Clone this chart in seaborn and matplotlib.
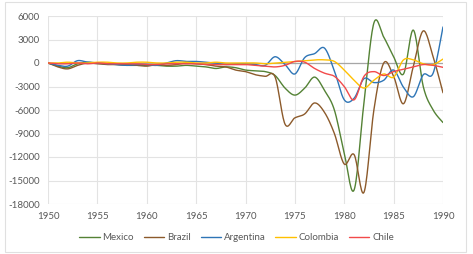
import numpy as np
import pandas as pd
import matplotlib
matplotlib.use('Agg')
import matplotlib.pyplot as plt
import seaborn as sns
from matplotlib.patches import Rectangle

years = list(range(1950, 1991))

mexico = [0, -400, -600, -100, 100, 0, -100, -200, -200, -300,
          -300, -300, -400, -400, -300, -400, -500, -700, -500, -600,
          -900, -1000, -1100, -1600, -3200, -4100, -3200, -1800, -3500, -6000,
          -11500, -16200, -5000, 5100, 3300, 800, -1400, 4200, -3000, -6000,
          -7600]
brazil = [0, -500, -750, -300, 0, -100, -200, -200, -300, -300,
          -400, -200, -300, -200, 0, -100, -200, -400, -500, -900,
          -1100, -1500, -1700, -1800, -7800, -7000, -6500, -5100, -6300, -9000,
          -12900, -11700, -16500, -6000, 0, -1700, -5200, -400, 4100, 800,
          -3800]
argentina = [0, -300, -400, 300, 100, 0, -100, -200, -300, -200,
             -200, -300, 0, 300, 200, 200, 100, 0, -200, -100,
             -100, -200, -300, 800, -200, -1400, 700, 1200, 1900, -1000,
             -4700, -4500, -2000, -2500, -2200, -900, -3100, -4300, -1500, -1300,
             4600]
colombia = [0, 0, 100, 0, 0, 100, 100, 0, 0, 100,
            100, 0, 0, 100, 100, 0, 0, 100, 0, 0,
            0, 0, -100, 0, 100, 200, 300, 400, 400, 200,
            -900, -2200, -3200, -2200, -1400, -1800, 400, 400, -100, -200,
            500]
chile = [0, -100, -100, 0, -100, 0, -100, -100, -100, -100,
         -200, -200, -100, -100, -100, -100, -200, -200, -200, -200,
         -200, -300, -400, -500, -300, 200, 100, -700, -1300, -1700,
         -3000, -4700, -1700, -1100, -1600, -1100, -800, -500, -200, -300,
         -550]

countries = ['Mexico', 'Brazil', 'Argentina', 'Colombia', 'Chile']
series = [mexico, brazil, argentina, colombia, chile]
colors = {'Mexico': '#548235', 'Brazil': '#8c5a2b', 'Argentina': '#2e75b6',
          'Colombia': '#ffc000', 'Chile': '#f24a4a'}
yticks = list(range(-18000, 6001, 3000))
xticks = list(range(1950, 1991, 5))


def smooth(x, y, n=16):
    # Catmull-Rom, close to Excel's smoothed line
    x = np.asarray(x, float)
    y = np.asarray(y, float)
    px = np.concatenate([[x[0]], x, [x[-1]]])
    py = np.concatenate([[y[0]], y, [y[-1]]])
    xs, ys = [], []
    t = np.linspace(0, 1, n, endpoint=False)
    for i in range(1, len(px) - 2):
        for p, out in ((px, xs), (py, ys)):
            p0, p1, p2, p3 = p[i - 1], p[i], p[i + 1], p[i + 2]
            out.extend(0.5 * ((2 * p1) + (-p0 + p2) * t
                              + (2 * p0 - 5 * p1 + 4 * p2 - p3) * t ** 2
                              + (-p0 + 3 * p1 - 3 * p2 + p3) * t ** 3))
    xs.append(x[-1])
    ys.append(y[-1])
    return np.array(xs), np.array(ys)


rows = []
for name, vals in zip(countries, series):
    sx, sy = smooth(years, vals)
    rows.append(pd.DataFrame({'year': sx, 'value': sy, 'country': name}))
df = pd.concat(rows, ignore_index=True)

sns.set_style('white')
plt.rcParams['font.family'] = ['Lato', 'DejaVu Sans']
plt.rcParams['axes.unicode_minus'] = False

fig = plt.figure(figsize=(4.73, 2.54), dpi=100)
ax = fig.add_axes([48 / 473, 1 - 204 / 254, 395 / 473, 188 / 254])

fig.patches.append(Rectangle((5 / 473, 2 / 254), 461 / 473, 250 / 254,
                             transform=fig.transFigure, fill=False,
                             edgecolor='#e0e0e0', linewidth=0.8))

sns.lineplot(data=df, x='year', y='value', hue='country', palette=colors,
             hue_order=countries, sort=False, estimator=None, units='country',
             linewidth=1.0, ax=ax)

ax.set_xlim(1950, 1990)
ax.set_ylim(-18000, 6000)
ax.set_xticks(xticks)
ax.set_xticklabels([str(v) for v in xticks])
ax.set_yticks(yticks)
ax.set_yticklabels([str(v) for v in yticks])
ax.grid(True, color='#e3e3e3', linewidth=0.8)
ax.set_axisbelow(True)
ax.axhline(0, color='#a6a6a6', linewidth=0.9, zorder=1.5)
for s in ax.spines.values():
    s.set_visible(False)
ax.tick_params(length=0, labelsize=7, colors='#595959', pad=6)
ax.set_xlabel('')
ax.set_ylabel('')

handles, labels = ax.get_legend_handles_labels()
ax.legend(handles, labels, loc='center', bbox_to_anchor=(0.5, 1 - 238 / 254),
          bbox_transform=fig.transFigure, ncol=5, frameon=False, fontsize=7,
          labelcolor='#595959', handlelength=2.1, handletextpad=0.3,
          columnspacing=1.0)

fig.savefig('out.png', dpi=100, facecolor='white')
